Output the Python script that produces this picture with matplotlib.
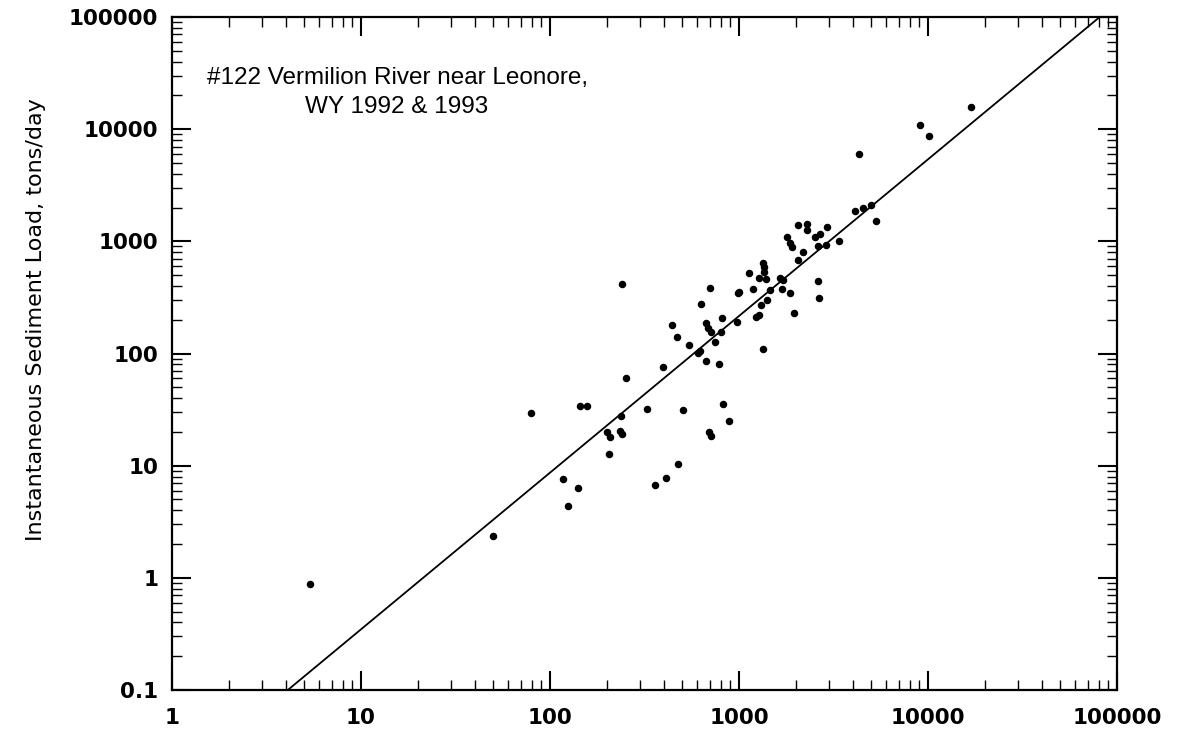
import matplotlib
matplotlib.use("Agg")
import matplotlib.pyplot as plt
from matplotlib.ticker import LogLocator, FixedLocator, FixedFormatter, NullFormatter

plt.rcParams['font.family'] = ['Liberation Sans', 'DejaVu Sans']

# Observed data (discharge vs. instantaneous sediment load)
discharge = [5.37, 49.9, 79.3, 117, 124.5, 140.6, 144, 157, 205, 200, 208, 235, 240, 238,
             240, 253, 326, 359, 411, 476, 506, 396, 442, 470, 544, 607, 629, 703, 669, 685,
             711, 803, 813, 746, 669, 784, 823, 885, 694, 711, 976, 988, 1130, 1186, 1340,
             1356, 1356, 1276, 1389, 1459, 1406, 1307, 1230, 1276, 1340, 1648, 1710, 1690,
             1862, 1954, 1795, 1862, 1907, 2182, 2052, 2618, 2650, 2290, 2052, 2290, 2525,
             2684, 2923, 2618, 2885, 3381, 4110, 4530, 4990, 5310, 4315, 9070, 10120, 16890,
             620, 1000]
sediment = [0.885, 2.37, 29.6, 7.63, 4.38, 6.34, 34.1, 34.1, 12.7, 20.0, 18.1, 20.4, 19.2, 27.8,
            417, 60.6, 32.1, 6.74, 7.79, 10.4, 31.4, 76, 180, 141, 119, 101, 277, 384, 187, 169,
            156, 156, 207, 127, 86, 80.7, 35.6, 25.1, 20.0, 18.5, 191, 347, 522, 376, 641,
            591, 533, 472, 462, 369, 301, 271, 212, 221, 110, 472, 453, 376,
            347, 230, 1094, 968, 891, 805, 683, 444, 313, 1429, 1400, 1265, 1094,
            1164, 1343, 910, 929, 1009, 1867, 1986, 2109, 1520, 6010, 10890, 8690, 15780,
            105, 350]

# Regression line end points
line_x = [4.1, 81000]
line_y = [0.1, 100000]

x_ticks = [1, 10, 100, 1000, 10000, 100000]
x_labels = ['1', '10', '100', '1000', '10000', '100000']
y_ticks = [0.1, 1, 10, 100, 1000, 10000, 100000]
y_labels = ['0.1', '1', '10', '100', '1000', '10000', '100000']

title_line1 = '#122 Vermilion River near Leonore,'
title_line2 = 'WY 1992 & 1993'
ylabel = 'Instantaneous Sediment Load, tons/day'

fig = plt.figure(figsize=(11.81, 7.35), dpi=100)
ax = fig.add_axes([172/1181, 1-690/735, 945/1181, 673/735])
ax.set_xscale('log')
ax.set_yscale('log')
ax.set_xlim(1, 100000)
ax.set_ylim(0.1, 100000)

ax.plot(line_x, line_y, color='black', linewidth=1.3)
ax.plot(discharge, sediment, linestyle='none', marker='o', markersize=4.4,
        color='black')

ax.xaxis.set_major_locator(FixedLocator(x_ticks))
ax.xaxis.set_major_formatter(FixedFormatter(x_labels))
ax.yaxis.set_major_locator(FixedLocator(y_ticks))
ax.yaxis.set_major_formatter(FixedFormatter(y_labels))
ax.xaxis.set_minor_locator(LogLocator(base=10, subs=range(2, 10), numticks=20))
ax.yaxis.set_minor_locator(LogLocator(base=10, subs=range(2, 10), numticks=20))
ax.xaxis.set_minor_formatter(NullFormatter())
ax.yaxis.set_minor_formatter(NullFormatter())

ax.tick_params(which='both', direction='in', top=True, right=True, color='black')
ax.tick_params(which='major', length=14, width=1.5)
ax.tick_params(axis='y', which='major', pad=10)
ax.tick_params(axis='x', which='major', pad=13)
ax.tick_params(which='minor', length=7, width=1.0)
for lab in ax.get_xticklabels() + ax.get_yticklabels():
    lab.set_fontfamily('DejaVu Sans')
    lab.set_fontweight('bold')
    lab.set_fontsize(15.5)
for s in ax.spines.values():
    s.set_linewidth(1.6)

fig.text(36/1181, 1-320/735, ylabel, rotation=90, ha='center', va='center',
         fontsize=16, family='DejaVu Sans')

ax.text(0.037, 0.909, title_line1, transform=ax.transAxes, fontsize=17.5,
        va='center', ha='left')
ax.text(0.141, 0.867, title_line2, transform=ax.transAxes, fontsize=17.5,
        va='center', ha='left')

fig.savefig('out.png', dpi=100)
